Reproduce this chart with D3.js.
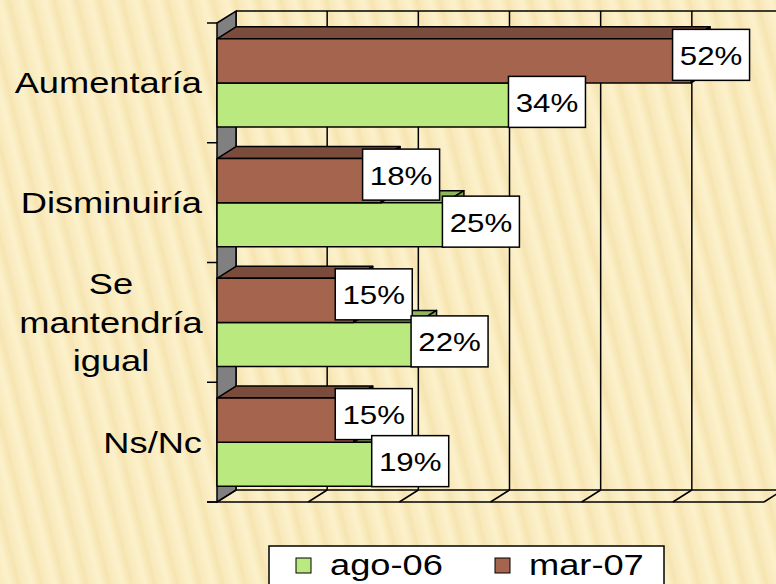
<!DOCTYPE html>
<html>
<head>
<meta charset="utf-8">
<script src="https://cdn.jsdelivr.net/npm/d3@7"></script>
<style>
  html, body { margin: 0; padding: 0; background: #fcf0c8; }
  svg { display: block; }
  text { font-family: "Liberation Sans", Arial, sans-serif; fill: #000; }
</style>
</head>
<body>
<div id="chart"></div>
<script>
// Chart data
const categories = ["Aumentaría", "Disminuiría", "Se mantendría igual", "Ns/Nc"];
const categoryLines = [["Aumentaría"], ["Disminuiría"], ["Se", "mantendría", "igual"], ["Ns/Nc"]];
const seriesNames = ["ago-06", "mar-07"];
const ago06 = [34, 25, 22, 19];
const mar07 = [52, 18, 15, 15];
const valueTicks = [0, 10, 20, 30, 40, 50, 60];

// label nudges for the ago-06 labels that were moved off the mar-07 ones
const agoLabelDx = [0, 16, 12, 0];

const width = 776, height = 584;
const depthX = 19, depthY = -12;   // 3d depth offset
const stretch = 1.25;              // text is drawn wider than normal

const colors = {
    "ago-06": { front: "#b9e97f", top: "#8fb65c", side: "#7fa14f" },
    "mar-07": { front: "#a5644e", top: "#7b4b3b", side: "#6a3f31" }
};

const svg = d3.select("#chart")
    .append("svg")
    .attr("width", width)
    .attr("height", height);

// background texture
const defs = svg.append("defs");
const grad = defs.append("linearGradient")
    .attr("id", "stripeGrad")
    .attr("x1", 0).attr("x2", 1).attr("y1", 0).attr("y2", 0);
grad.append("stop").attr("offset", "0%").attr("stop-color", "#fcf1cb");
grad.append("stop").attr("offset", "40%").attr("stop-color", "#f6e4b0");
grad.append("stop").attr("offset", "55%").attr("stop-color", "#f9eabd");
grad.append("stop").attr("offset", "100%").attr("stop-color", "#fcf1cb");

const pattern = defs.append("pattern")
    .attr("id", "stripes")
    .attr("patternUnits", "userSpaceOnUse")
    .attr("width", 22).attr("height", 600)
    .attr("patternTransform", "rotate(-14)");
pattern.append("rect")
    .attr("width", 22).attr("height", 600)
    .attr("fill", "url(#stripeGrad)");

svg.append("rect")
    .attr("width", width).attr("height", height)
    .attr("fill", "url(#stripes)");

// scales
const x = d3.scaleLinear().domain([0, 60]).range([217, 217 + 547]);
const y = d3.scaleBand().domain(categories).range([23, 502]);
const ySeries = d3.scaleBand()
    .domain(["mar-07", "ago-06"])
    .range([0, y.bandwidth()])
    .paddingInner(0)
    .paddingOuter(0.36);

const yTop = y.range()[0], yBottom = y.range()[1];

// back wall and grid
const grid = svg.append("g").attr("stroke", "#000").attr("stroke-width", 1.5).attr("fill", "none");
grid.selectAll("line.grid")
    .data(valueTicks)
    .join("line")
    .attr("class", "grid")
    .attr("x1", d => x(d) + depthX).attr("x2", d => x(d) + depthX)
    .attr("y1", yTop + depthY).attr("y2", yBottom + depthY);

grid.append("line")
    .attr("x1", x(0) + depthX).attr("x2", x(60) + depthX)
    .attr("y1", yTop + depthY).attr("y2", yTop + depthY);

// floor
grid.append("line")
    .attr("x1", x(0) + depthX).attr("x2", x(60) + depthX)
    .attr("y1", yBottom + depthY).attr("y2", yBottom + depthY);
grid.append("line")
    .attr("x1", x(0) - 10).attr("x2", x(60))
    .attr("y1", yBottom).attr("y2", yBottom);
grid.selectAll("line.floor")
    .data(valueTicks)
    .join("line")
    .attr("class", "floor")
    .attr("x1", d => x(d)).attr("x2", d => x(d) + depthX)
    .attr("y1", yBottom).attr("y2", yBottom + depthY);

// left wall
svg.append("polygon")
    .attr("points", [
        [x(0), yTop], [x(0) + depthX, yTop + depthY],
        [x(0) + depthX, yBottom + depthY], [x(0), yBottom]
    ].map(p => p.join(",")).join(" "))
    .attr("fill", "#808080")
    .attr("stroke", "#000")
    .attr("stroke-width", 1.5);

const catTicks = d3.range(categories.length + 1).map(i => yTop + i * y.step());
svg.append("g").selectAll("line")
    .data(catTicks)
    .join("line")
    .attr("x1", x(0) - 10).attr("x2", x(0))
    .attr("y1", d => d).attr("y2", d => d)
    .attr("stroke", "#000").attr("stroke-width", 1.5);

// bars
const bars = [];
categories.forEach((c, i) => {
    bars.push({ cat: c, i, series: "ago-06", value: ago06[i] });
    bars.push({ cat: c, i, series: "mar-07", value: mar07[i] });
});

const pts = arr => arr.map(p => p.join(",")).join(" ");

const barG = svg.append("g")
    .attr("stroke", "#000")
    .attr("stroke-width", 1.5)
    .attr("stroke-linejoin", "round");

bars.forEach(b => {
    const y0 = y(b.cat) + ySeries(b.series);
    const y1 = y0 + ySeries.bandwidth();
    const x0 = x(0), x1 = x(b.value);
    const col = colors[b.series];
    barG.append("polygon")
        .attr("points", pts([[x0, y0], [x1, y0], [x1 + depthX, y0 + depthY], [x0 + depthX, y0 + depthY]]))
        .attr("fill", col.top);
    barG.append("polygon")
        .attr("points", pts([[x1, y0], [x1 + depthX, y0 + depthY], [x1 + depthX, y1 + depthY], [x1, y1]]))
        .attr("fill", col.side);
    barG.append("rect")
        .attr("x", x0).attr("y", y0)
        .attr("width", x1 - x0).attr("height", y1 - y0)
        .attr("fill", col.front);
});

// helper for stretched text
function stretchedText(g, tx, ty, str, size, anchor) {
    return g.append("text")
        .attr("transform", `translate(${tx},${ty}) scale(${stretch},1)`)
        .attr("text-anchor", anchor)
        .attr("font-size", size)
        .text(str);
}

// data labels
const labelG = svg.append("g");
const boxW = 77, boxH = 51;
bars.slice().sort((a, b) => a.i - b.i || (a.series === "mar-07" ? -1 : 1)).forEach(b => {
    const y0 = y(b.cat) + ySeries(b.series);
    const cy = y0 + ySeries.bandwidth() / 2 + (b.series === "mar-07" ? -6 : -3);
    const cx = x(b.value) + depthX + 1 + (b.series === "ago-06" ? agoLabelDx[b.i] : 0);
    labelG.append("rect")
        .attr("x", cx - boxW / 2).attr("y", cy - boxH / 2)
        .attr("width", boxW).attr("height", boxH)
        .attr("fill", "#fff")
        .attr("stroke", "#000")
        .attr("stroke-width", 1.5);
    stretchedText(labelG, cx, cy + 10, b.value + "%", 25, "middle");
});

// category labels
const catG = svg.append("g");
categories.forEach((c, i) => {
    const lines = categoryLines[i];
    const mid = y(c) + y.bandwidth() / 2;
    if (lines.length === 1) {
        stretchedText(catG, 202, mid + 10.5, lines[0], 29, "end");
    } else {
        const lh = 38.5;
        lines.forEach((l, j) => {
            stretchedText(catG, 111, mid + 10.5 + (j - (lines.length - 1) / 2) * lh, l, 29, "middle");
        });
    }
});

// legend
const legend = svg.append("g");
legend.append("rect")
    .attr("x", 269).attr("y", 546)
    .attr("width", 395).attr("height", 60)
    .attr("fill", "#fff")
    .attr("stroke", "#000")
    .attr("stroke-width", 1.5);

const legendX = d3.scaleOrdinal().domain(seriesNames).range([296, 495]);
seriesNames.forEach(s => {
    legend.append("rect")
        .attr("x", legendX(s)).attr("y", 558)
        .attr("width", 15).attr("height", 15)
        .attr("fill", colors[s].front)
        .attr("stroke", "#000")
        .attr("stroke-width", 1);
    stretchedText(legend, legendX(s) + 34, 575, s, 29, "start");
});
</script>
</body>
</html>
